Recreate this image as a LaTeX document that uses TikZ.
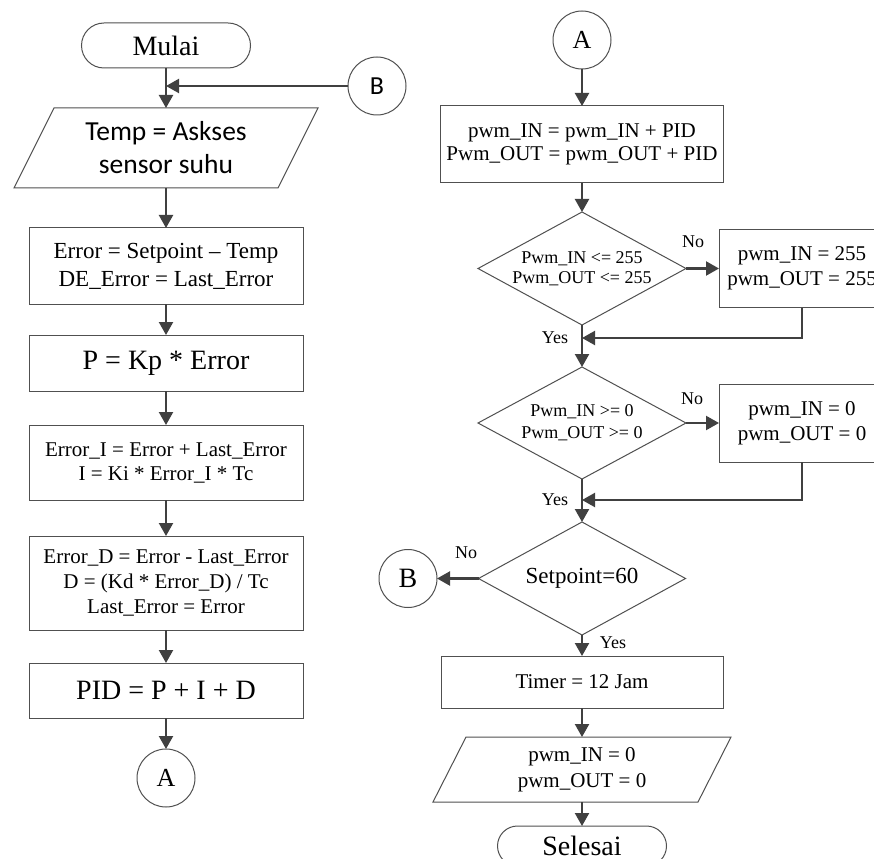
\documentclass[tikz,border=0pt]{standalone}
\usepackage{fontspec}
\setmainfont{Liberation Serif}
\newfontfamily\calibri{Carlito}
\usetikzlibrary{arrows.meta,calc}

\definecolor{edge}{HTML}{505050}
\definecolor{flow}{HTML}{404040}

\tikzset{
  every node/.style={inner sep=0pt, outer sep=0pt},
  box/.style={draw=edge, line width=1pt, rectangle, align=center},
  term/.style={box, rounded corners=20pt},
  conn/.style={draw=edge, line width=1pt, circle, minimum size=58pt},
  frame/.style={rectangle, align=center},
  outline/.style={draw=edge, line width=1pt, line join=miter},
  flowline/.style={draw=flow, line width=2.2pt, -{Triangle[length=13pt,width=14pt]}},
  tag/.style={font=\fontsize{18}{20}\selectfont},
  fbig/.style={font=\fontsize{28}{32}\selectfont},
  fmid/.style={font=\fontsize{21}{#1}\selectfont},
  fmid/.default=24,
}

\begin{document}
\begin{tikzpicture}[x=1pt,y=-1pt]
\useasboundingbox (0,0) rectangle (874,858);
\fill[white] (0,0) rectangle (874,858);

% ---------- left column: reading the sensor and computing PID ----------
\node[term, fbig, minimum width=169pt, minimum height=45pt, rounded corners=22.5pt] (mulai) at (166,45.5) {Mulai};
\node[conn, font=\calibri\fontsize{26}{30}\selectfont] (bin) at (377,86) {B};

\node[frame, minimum width=264pt, minimum height=80pt, font=\calibri\fontsize{27.5}{33}\selectfont] (baca) at (166,148) {Temp = Askses\\sensor suhu};
\draw[outline] ($(baca.north west)+(20,0)$) -- ($(baca.north east)+(20,0)$)
  -- ($(baca.south east)-(20,0)$) -- ($(baca.south west)-(20,0)$) -- cycle;

\node[box, minimum width=274pt, minimum height=76pt, font=\fontsize{23}{28}\selectfont] (err) at (166,266)
  {Error = Setpoint – Temp\\DE\_Error = Last\_Error};
\node[box, fbig, minimum width=274pt, minimum height=56pt] (prop) at (166,363) {P = Kp * Error};
\node[box, fmid=24, minimum width=274pt, minimum height=75pt] (integ) at (166,462.5)
  {Error\_I = Error + Last\_Error\\I = Ki * Error\_I * Tc};
\node[box, fmid=25, minimum width=274pt, minimum height=94pt] (deriv) at (166,583)
  {Error\_D = Error - Last\_Error\\D = (Kd * Error\_D) / Tc\\Last\_Error = Error};
\node[box, fbig, minimum width=274pt, minimum height=55pt] (pid) at (166,690.5) {PID = P + I + D};
\node[conn, font=\fontsize{26}{30}\selectfont] (aout) at (166,778) {A};

\draw[flowline] (mulai) -- (baca);
\draw[flowline] (bin) -- (bin -| mulai.south);
\draw[flowline] (baca) -- (err);
\draw[flowline] (err) -- (prop);
\draw[flowline] (prop) -- (integ);
\draw[flowline] (integ) -- (deriv);
\draw[flowline] (deriv) -- (pid);
\draw[flowline] (pid) -- (aout);

% ---------- right column: PWM update and limits ----------
\node[conn, font=\fontsize{26}{30}\selectfont] (ain) at (582,40) {A};
\node[box, fmid=23, minimum width=283pt, minimum height=77pt] (upd) at (582,144.5)
  {pwm\_IN = pwm\_IN + PID\\Pwm\_OUT = pwm\_OUT + PID};

\node[frame, font=\fontsize{18}{20}\selectfont, minimum width=208pt, minimum height=113pt] (cekmax) at (582,268.5)
  {Pwm\_IN <= 255\\Pwm\_OUT <= 255};
\draw[outline] (cekmax.north) -- (cekmax.east) -- (cekmax.south) -- (cekmax.west) -- cycle;
\node[box, fmid=25, minimum width=166pt, minimum height=78pt] (max255) at (802,268.5)
  {pwm\_IN = 255\\pwm\_OUT = 255};

\node[frame, font=\fontsize{18}{22}\selectfont, minimum width=208pt, minimum height=112pt] (cekmin) at (582,423)
  {Pwm\_IN >= 0\\Pwm\_OUT >= 0};
\draw[outline] (cekmin.north) -- (cekmin.east) -- (cekmin.south) -- (cekmin.west) -- cycle;
\node[box, fmid=25, minimum width=166pt, minimum height=78pt] (min0) at (802,423)
  {pwm\_IN = 0\\pwm\_OUT = 0};

\node[frame, font=\fontsize{23}{26}\selectfont, minimum width=207pt, minimum height=113pt] (cekset) at (582,578.5)
  {Setpoint=60};
\draw[outline] (cekset.north) -- (cekset.east) -- (cekset.south) -- (cekset.west) -- cycle;
\node[conn, font=\fontsize{28}{32}\selectfont] (bout) at (408,578.5) {B};

\node[box, fmid, minimum width=282pt, minimum height=52pt] (timer) at (582,682) {Timer = 12 Jam};

\node[frame, fmid=26, minimum width=265pt, minimum height=65pt] (keluar) at (582,769.5)
  {pwm\_IN = 0\\pwm\_OUT = 0};
\draw[outline] ($(keluar.north west)+(16.5,0)$) -- ($(keluar.north east)+(16.5,0)$)
  -- ($(keluar.south east)-(16.5,0)$) -- ($(keluar.south west)-(16.5,0)$) -- cycle;

\node[term, fbig, minimum width=169pt, minimum height=40pt] (selesai) at (582,846) {Selesai};

\coordinate (j1) at (582,338);
\coordinate (j2) at (582,500);

\draw[flowline] (ain) -- (upd);
\draw[flowline] (upd) -- (cekmax);
\draw[flowline] (cekmax.east) -- (max255);
\draw[flowline] (max255.south) |- (j1);
\draw[flowline] (cekmax.south) -- (cekmin.north);
\draw[flowline] (cekmin.east) -- (min0);
\draw[flowline] (min0.south) |- (j2);
\draw[flowline] (cekmin.south) -- (cekset.north);
\draw[flowline] (cekset.west) -- (bout);
\draw[flowline] (cekset.south) -- (timer);
\draw[flowline] (timer) -- (keluar);
\draw[flowline] (keluar) -- (selesai);

% branch labels
\node[tag] (no1) at (693,242) {No};
\node[tag] (yes1) at (555,338) {Yes};
\node[tag] (no2) at (692,399) {No};
\node[tag] (yes2) at (555,500) {Yes};
\node[tag] (no3) at (466,553) {No};
\node[tag] (yes3) at (613,643) {Yes};
\end{tikzpicture}
\end{document}
